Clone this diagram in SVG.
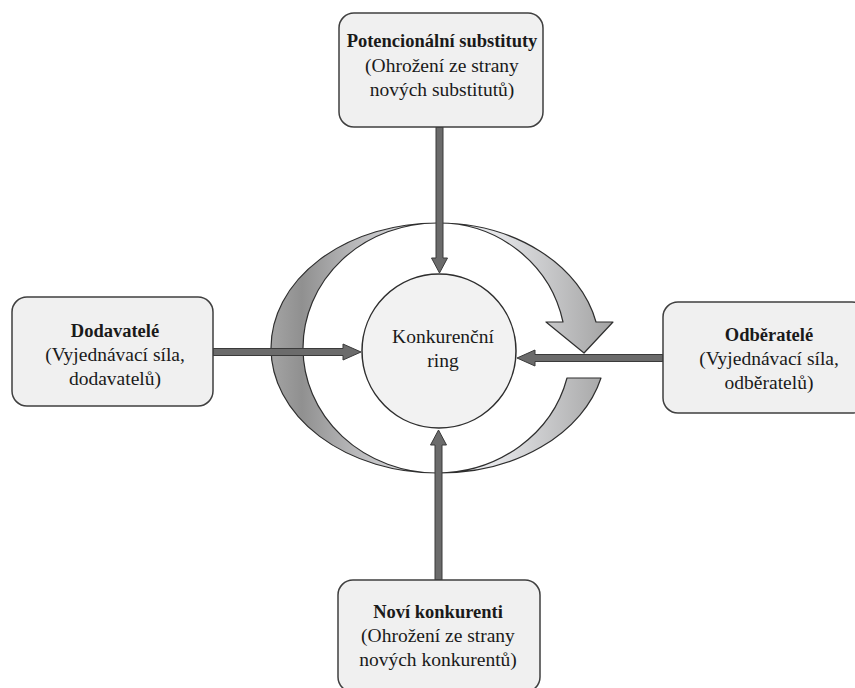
<svg xmlns="http://www.w3.org/2000/svg" width="855" height="688" viewBox="0 0 855 688">
<style>
.box{fill:#f0f0f0;stroke:#3f3f3f;stroke-width:1.5}
.t{font-family:"Liberation Serif","Times New Roman",serif;font-size:19.5px;fill:#1a1a1a;text-anchor:middle}
.b{font-weight:bold;font-size:18.5px}
.arr{fill:#6b6b6b;stroke:#3a3a3a;stroke-width:1}
</style>
<defs>
<linearGradient id="cyc" gradientUnits="userSpaceOnUse" x1="271" y1="0" x2="613" y2="0">
<stop offset="0" stop-color="#a4a4a4"/>
<stop offset="0.09" stop-color="#909090"/>
<stop offset="0.25" stop-color="#b9b9bb"/>
<stop offset="0.5" stop-color="#eef0f4"/>
<stop offset="0.66" stop-color="#e4e5e8"/>
<stop offset="1" stop-color="#a2a2a2"/>
</linearGradient>
</defs>
<rect width="855" height="688" fill="#ffffff"/>
<g id="cycle">
<path d="M567 378 L601 378 A166 125 0 0 1 437 473 A166 125 0 0 1 437 223 A162 125 0 0 1 596 322 L613 322 L584 353 L546 322 L563 322 A127 125 0 0 0 437 223 A134 125 0 0 0 437 473 A134 125 0 0 0 567 378 Z" fill="url(#cyc)" stroke="#2e2e2e" stroke-width="1.2" stroke-linejoin="round"/>
</g>
<g id="ring">
<circle cx="439" cy="351" r="77" fill="#f2f2f2" stroke="#2e2e2e" stroke-width="1.5"/>
<text class="t" x="443" y="343">Konkurenční</text>
<text class="t" x="443" y="367">ring</text>
</g>
<g id="connectors">
<path class="arr" d="M436 127 L443 127 L443 258 L447.5 258 L439.5 273 L431.5 258 L436 258 Z"/>
<path class="arr" d="M435 580 L442 580 L442 445 L446.5 445 L438.5 430 L430.5 445 L435 445 Z"/>
<path class="arr" d="M213 348.5 L343 348.5 L343 344 L361 352 L343 360 L343 355.5 L213 355.5 Z"/>
<path class="arr" d="M663 354.5 L535 354.5 L535 350 L517 358 L535 366 L535 361.5 L663 361.5 Z"/>
</g>
<g id="substituty">
<rect class="box" x="339" y="13" width="204" height="114" rx="15"/>
<text class="t b" x="442" y="47">Potencionální substituty</text>
<text class="t" x="442" y="72">(Ohrožení ze strany</text>
<text class="t" x="442" y="96">nových substitutů)</text>
</g>
<g id="dodavatele">
<rect class="box" x="12" y="297" width="201" height="109" rx="15"/>
<text class="t b" x="115" y="337">Dodavatelé</text>
<text class="t" x="115" y="361">(Vyjednávací síla,</text>
<text class="t" x="115" y="385">dodavatelů)</text>
</g>
<g id="odberatele">
<rect class="box" x="663" y="302" width="204" height="111" rx="15"/>
<text class="t b" x="769" y="341">Odběratelé</text>
<text class="t" x="769" y="365">(Vyjednávací síla,</text>
<text class="t" x="769" y="389">odběratelů)</text>
</g>
<g id="konkurenti">
<rect class="box" x="338" y="580" width="202" height="112" rx="15"/>
<text class="t b" x="438" y="618">Noví konkurenti</text>
<text class="t" x="438" y="642">(Ohrožení ze strany</text>
<text class="t" x="438" y="666">nových konkurentů)</text>
</g>
</svg>
